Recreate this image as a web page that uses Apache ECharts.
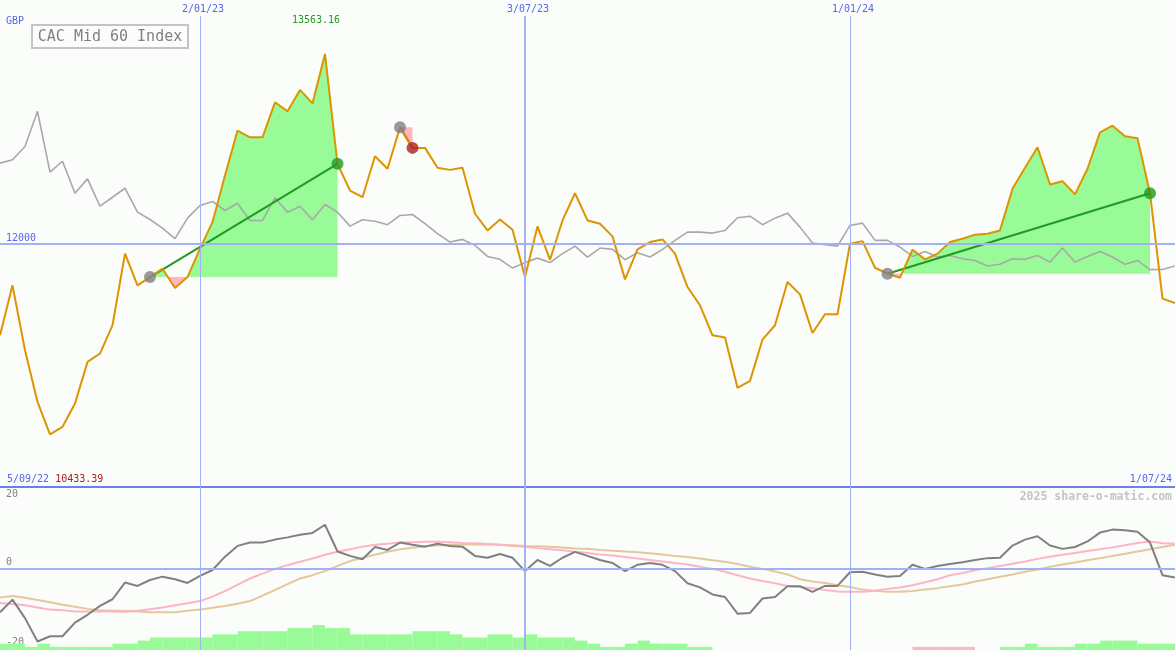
<!DOCTYPE html>
<html><head><meta charset="utf-8">
<script src="https://cdn.jsdelivr.net/npm/echarts@6/dist/echarts.min.js"></script>
<style>html,body{margin:0;padding:0;background:#fbfdfb}#c{width:1175px;height:650px}</style>
</head><body><div id="c"></div>
<script>
// ---- data (weekly, first week 12 Sep 2022) ----
const firstWeek = '2022-09-12';
const price = [11248, 11659, 11125, 10700, 10433.39, 10495, 10687, 11029, 11098, 11331,
  11920, 11659, 11727, 11796, 11637, 11727, 11961, 12179, 12563, 12932,
  12877, 12877, 13165, 13091, 13267, 13156, 13563.16, 12659, 12439, 12384,
  12721, 12618, 12959, 12790, 12790, 12626, 12609, 12626, 12248, 12111,
  12201, 12117, 11727, 12144, 11870, 12193, 12417, 12193, 12166, 12062,
  11708, 11955, 12015, 12037, 11920, 11645, 11495, 11248, 11230, 10816,
  10873, 11213, 11331, 11686, 11585, 11267, 11421, 11421, 12002, 12023,
  11804, 11755, 11722, 11952, 11873, 11920, 12015, 12043, 12076, 12084,
  12111, 12453, 12626, 12795, 12489, 12516, 12407, 12618, 12918, 12973,
  12885, 12869, 12417, 11550, 11514];
const relative = [12664, 12692, 12801, 13091, 12590, 12680, 12417, 12535, 12310, 12384,
  12458, 12261, 12201, 12130, 12043, 12212, 12316, 12349, 12275, 12335,
  12193, 12193, 12379, 12261, 12310, 12199, 12324, 12261, 12146, 12199,
  12187, 12158, 12234, 12242, 12166, 12084, 12015, 12037, 11988, 11897,
  11873, 11801, 11846, 11883, 11846, 11920, 11982, 11892, 11966, 11955,
  11870, 11928, 11892, 11955, 12029, 12097, 12097, 12089, 12111, 12215,
  12228, 12158, 12212, 12253, 12138, 12007, 11993, 11982, 12152, 12171,
  12029, 12029, 11974, 11897, 11938, 11892, 11905, 11878, 11864, 11818,
  11832, 11878, 11873, 11905, 11850, 11966, 11850, 11897, 11938, 11892,
  11832, 11864, 11788, 11790, 11818];
const momentum = [-11.8, -8.4, -13.4, -19.7, -18.3, -18.3, -14.6, -12.5, -10.1, -8.3,
  -3.8, -4.7, -3.1, -2.2, -2.9, -3.9, -2.0, -0.4, 3.2, 6.1,
  7.0, 7.0, 7.8, 8.4, 9.1, 9.6, 11.8, 4.6, 3.4, 2.5,
  5.8, 5.0, 7.0, 6.4, 5.9, 6.7, 6.1, 5.9, 3.4, 2.9,
  3.9, 2.9, -0.7, 2.3, 0.7, 2.9, 4.5, 3.4, 2.3, 1.5,
  -0.7, 1.0, 1.5, 1.0, -0.7, -4.0, -5.1, -7.0, -7.7, -12.2,
  -12.0, -8.1, -7.7, -4.8, -4.8, -6.3, -4.7, -4.7, -1.0, -0.9,
  -1.6, -2.2, -2.0, 1.0, -0.1, 0.7, 1.2, 1.7, 2.3, 2.8,
  2.9, 6.2, 7.8, 8.7, 6.2, 5.3, 5.8, 7.3, 9.7, 10.5,
  10.3, 9.9, 7.0, -1.8, -2.4];
const avgFast = [-9.3, -9.6, -9.9, -10.5, -11.1, -11.3, -11.6, -11.6, -11.6, -11.6,
  -11.7, -11.4, -11.0, -10.5, -9.9, -9.4, -8.8, -7.6, -6.1, -4.4,
  -2.7, -1.4, -0.1, 0.9, 1.8, 2.7, 3.7, 4.5, 5.2, 5.9,
  6.4, 6.7, 7.0, 7.1, 7.2, 7.2, 7.1, 6.9, 6.8, 6.6,
  6.4, 6.1, 5.9, 5.5, 5.2, 4.9, 4.5, 4.2, 3.8, 3.5,
  3.1, 2.7, 2.3, 1.9, 1.5, 1.1, 0.5, -0.1, -0.9, -1.8,
  -2.7, -3.4, -4.0, -4.7, -5.0, -5.3, -5.8, -6.2, -6.3, -6.3,
  -6.0, -5.5, -5.1, -4.5, -3.7, -2.9, -1.8, -1.2, -0.5, 0.1,
  0.7, 1.3, 1.9, 2.6, 3.2, 3.7, 4.2, 4.7, 5.2, 5.7,
  6.3, 6.9, 7.3, 6.8, 6.7];
const avgSlow = [-7.8, -7.4, -7.9, -8.5, -9.1, -9.8, -10.3, -10.9, -11.3, -11.4,
  -11.5, -11.6, -11.8, -11.8, -11.8, -11.4, -11.1, -10.6, -10.1, -9.5,
  -8.8, -7.3, -5.8, -4.2, -2.7, -1.8, -0.7, 0.7, 2.0, 2.9,
  3.7, 4.5, 5.2, 5.6, 6.0, 6.2, 6.4, 6.5, 6.5, 6.5,
  6.4, 6.3, 6.1, 6.0, 5.9, 5.7, 5.4, 5.3, 5.0, 4.8,
  4.6, 4.4, 4.1, 3.8, 3.4, 3.1, 2.7, 2.2, 1.8, 1.2,
  0.5, -0.1, -0.8, -1.6, -2.9, -3.5, -3.9, -4.5, -5.0, -5.7,
  -6.0, -6.3, -6.3, -6.1, -5.7, -5.3, -4.8, -4.3, -3.5, -2.9,
  -2.2, -1.6, -0.9, -0.3, 0.5, 1.1, 1.6, 2.2, 2.8, 3.4,
  4.0, 4.6, 5.2, 5.8, 6.4];
const barLevel = [2,2,1,2,1,1,1,1,1,2, 2,3,4,4,4,4,4,5,5,6, 6,6,6,7,7,8,7,7,5,5,
  5,5,5,6,6,6,5,4,4,5, 5,4,5,4,4,4,3,2,1,1, 2,3,2,2,2,1,1,0,0,0,
  0,0,0,0,0,0,0,0,0,0, 0,0,0,-1,-1,-1,-1,-1,0,0, 1,1,2,1,1,1,2,2,3,3, 3,2,2,2];
const tradeEntry = [12, 32, 71];
const tradeExit = [27, 33, 92];
const gridDates = ['2023-01-02', '2023-07-03', '2024-01-01'];
const rangeStartLabel = '5/09/22';
const rangeEndLabel = '1/07/24';
const title = 'CAC Mid 60 Index';
const currency = 'GBP';
const refLevel = 12000;
const credit = '2025 share-o-matic.com';

// ---- derived ----
const WEEK = 7 * 86400000;
const t0 = Date.parse(firstWeek);
const dates = price.map((_, i) => t0 + i * WEEK);
const pair = arr => arr.map((v, i) => [dates[i], v]);
const pad = n => (n < 10 ? '0' : '') + n;
const fmtDate = ts => { const d = new Date(ts); return d.getUTCDate() + '/' + pad(d.getUTCMonth() + 1) + '/' + String(d.getUTCFullYear()).slice(2); };
const MONO = '"DejaVu Sans Mono", "Liberation Mono", monospace';
const BLUE_TXT = '#5566ee';
const GRIDLINE = '#a3b1f2';

const vLines = gridDates.map((s, k) => ({ xAxis: Date.parse(s), lineStyle: { width: k === 1 ? 2 : 1 } }));

function renderTrade(params, api) {
  const k = api.value(2);
  const e = tradeEntry[k], x = tradeExit[k];
  const L = price[e];
  const up = [], dn = [];
  for (let i = e; i <= x; i++) {
    const p = price[i];
    if (i > e) {
      const p0 = price[i - 1];
      if ((p0 - L) * (p - L) < 0) {
        const t = dates[i - 1] + (L - p0) / (p - p0) * (dates[i] - dates[i - 1]);
        up.push([t, L]); dn.push([t, L]);
      }
    }
    up.push([dates[i], Math.max(p, L)]);
    dn.push([dates[i], Math.min(p, L)]);
  }
  const base = [[dates[x], L], [dates[e], L]];
  const toPx = arr => arr.concat(base).map(d => api.coord(d));
  return { type: 'group', children: [
    { type: 'polygon', shape: { points: toPx(up) }, style: { fill: '#98fb98' } },
    { type: 'polygon', shape: { points: toPx(dn) }, style: { fill: '#ffb6c1' } }
  ] };
}

function renderBar(params, api) {
  const v = api.value(3);
  if (!v) return null;
  const a = api.coord([api.value(0), 0]);
  const b = api.coord([api.value(2), api.value(1)]);
  return { type: 'rect', shape: { x: a[0], y: b[1], width: b[0] - a[0], height: a[1] - b[1] },
    style: { fill: v > 0 ? '#98fb98' : '#ffb6c1' } };
}

const tradeLines = tradeEntry.map((e, k) => ({
  type: 'line', xAxisIndex: 0, yAxisIndex: 0, z: 3, symbol: 'none', silent: true,
  lineStyle: { color: price[tradeExit[k]] > price[e] ? '#229922' : '#aa2222', width: 2 },
  data: [[dates[e], price[e]], [dates[tradeExit[k]], price[tradeExit[k]]]]
}));

const dots = [];
tradeEntry.forEach((e, k) => {
  const x = tradeExit[k];
  dots.push({ value: [dates[e], price[e]], itemStyle: { color: '#808080' } });
  dots.push({ value: [dates[x], price[x]], itemStyle: { color: price[x] > price[e] ? '#229922' : '#aa2222' } });
});

const minVal = Math.min.apply(null, price);

const chart = echarts.init(document.getElementById('c'), null, { renderer: 'canvas' });
chart.setOption({
  animation: false,
  backgroundColor: '#fbfdfb',
  grid: [
    { left: 0, right: 0, top: 16, height: 471 },
    { left: 0, right: 0, top: 487, height: 163 }
  ],
  xAxis: [
    { type: 'time', gridIndex: 0, min: dates[0], max: dates[dates.length - 1],
      axisLine: { show: true, onZero: false, lineStyle: { color: '#6e7ef0', width: 2 } },
      axisTick: { show: false }, axisLabel: { show: false }, splitLine: { show: false } },
    { type: 'time', gridIndex: 1, min: dates[0], max: dates[dates.length - 1], show: false }
  ],
  yAxis: [
    { type: 'value', gridIndex: 0, min: 10000, max: 13875, show: false },
    { type: 'value', gridIndex: 1, min: -22, max: 22,
      axisLine: { show: false }, axisTick: { show: false }, splitLine: { show: false },
      axisLabel: { inside: true, margin: 6, customValues: [-20, 0, 20], color: '#808080',
        fontFamily: MONO, fontSize: 10,
        formatter: v => (v === 0 ? '{z|0}' : String(v)),
        rich: { z: { padding: [0, 0, 12, 0], color: '#808080', fontFamily: MONO, fontSize: 10 } } } },
    { type: 'value', gridIndex: 1, min: 0, max: 52, show: false }
  ],
  graphic: [
    { type: 'text', x: 6, y: 21, style: { text: currency, fill: BLUE_TXT, font: '10px ' + MONO, verticalAlign: 'middle' } },
    { type: 'rect', shape: { x: 32, y: 25, width: 156, height: 23 }, style: { fill: '#fbfdfb', stroke: '#c4c4c4', lineWidth: 2 }, z: 10 },
    { type: 'text', x: 110, y: 37, z: 11, style: { text: title, fill: '#808080', font: '15px ' + MONO, align: 'center', verticalAlign: 'middle' } },
    { type: 'text', x: 7, y: 479, z: 11, style: { text: '{a|' + rangeStartLabel + '} {b|' + minVal.toFixed(2) + '}', font: '10px ' + MONO, verticalAlign: 'middle',
      rich: { a: { fill: BLUE_TXT, font: '10px ' + MONO }, b: { fill: '#aa2222', font: '10px ' + MONO } } } },
    { type: 'text', x: 1172, y: 479, z: 11, style: { text: rangeEndLabel, fill: BLUE_TXT, font: '10px ' + MONO, align: 'right', verticalAlign: 'middle' } },
    { type: 'text', x: 1172, y: 497, z: 11, style: { text: credit, fill: '#c4c4c4', font: 'bold 11.5px ' + MONO, align: 'right', verticalAlign: 'middle' } }
  ],
  series: [
    // gridlines holder (main)
    { type: 'line', xAxisIndex: 0, yAxisIndex: 0, z: 1, silent: true, symbol: 'none',
      lineStyle: { opacity: 0 }, data: pair(price),
      markLine: { silent: true, symbol: ['none', 'none'], animation: false,
        lineStyle: { color: GRIDLINE, type: 'solid', width: 1 },
        label: { show: true, position: 'end', distance: 2, offset: [3, 0], formatter: p => fmtDate(p.value), color: BLUE_TXT, fontFamily: MONO, fontSize: 10 },
        data: vLines.concat([{ yAxis: refLevel, lineStyle: { width: 2 },
          label: { position: 'insideStartTop', distance: [6, 0], offset: [0, 0], formatter: String(refLevel) } }]) } },
    // trade fills
    { type: 'custom', xAxisIndex: 0, yAxisIndex: 0, z: 2, silent: true, renderItem: renderTrade,
      encode: { x: 0, y: 1 }, data: tradeEntry.map((e, k) => [dates[e], price[e], k]) },
    // relative line
    { type: 'line', xAxisIndex: 0, yAxisIndex: 0, z: 3, symbol: 'none', silent: true,
      lineStyle: { color: '#a8a8a8', width: 1.6 }, data: pair(relative) },
    ...tradeLines,
    // price
    { type: 'line', xAxisIndex: 0, yAxisIndex: 0, z: 4, symbol: 'none', silent: true,
      lineStyle: { color: '#dc9400', width: 2 }, data: pair(price),
      markPoint: { symbol: 'circle', symbolSize: 1, itemStyle: { color: 'rgba(0,0,0,0)' },
        data: [{ type: 'max' }],
        label: { show: true, position: 'inside', offset: [-9, -33], formatter: p => p.value.toFixed(2),
          color: '#229922', fontFamily: MONO, fontSize: 10 } } },
    // trade markers
    { type: 'scatter', xAxisIndex: 0, yAxisIndex: 0, z: 5, symbolSize: 12, silent: true, data: dots },
    // lower panel gridlines holder
    { type: 'line', xAxisIndex: 1, yAxisIndex: 1, z: 1, silent: true, symbol: 'none',
      lineStyle: { opacity: 0 }, data: pair(momentum),
      markLine: { silent: true, symbol: ['none', 'none'], animation: false, label: { show: false },
        lineStyle: { color: GRIDLINE, type: 'solid', width: 1 },
        data: vLines.concat([{ yAxis: 0, lineStyle: { width: 2 } }]) } },
    // bars
    { type: 'custom', xAxisIndex: 1, yAxisIndex: 2, z: 2, silent: true, renderItem: renderBar,
      encode: { x: 0, y: 1 }, data: barLevel.map((v, i) => [dates[i], Math.abs(v), dates[i + 1], v]) },
    { type: 'line', xAxisIndex: 1, yAxisIndex: 1, z: 3, symbol: 'none', silent: true,
      lineStyle: { color: '#e3c999', width: 2 }, data: pair(avgSlow) },
    { type: 'line', xAxisIndex: 1, yAxisIndex: 1, z: 3, symbol: 'none', silent: true,
      lineStyle: { color: '#ffb3c6', width: 2 }, data: pair(avgFast) },
    { type: 'line', xAxisIndex: 1, yAxisIndex: 1, z: 4, symbol: 'none', silent: true,
      lineStyle: { color: '#808080', width: 2 }, data: pair(momentum) }
  ]
});
</script></body></html>
